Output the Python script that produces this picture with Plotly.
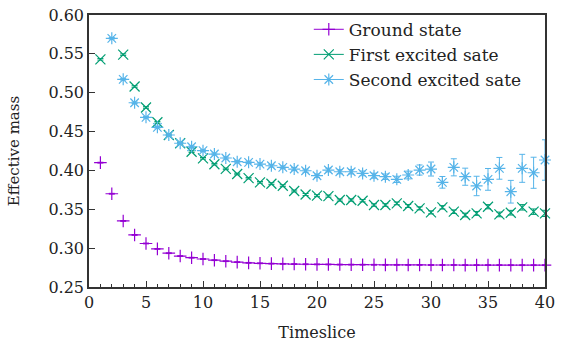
import plotly.graph_objects as go

t = list(range(1, 41))

ground = [0.410, 0.370, 0.335, 0.317, 0.306, 0.299, 0.2935, 0.2898, 0.2877, 0.2860,
          0.2845, 0.2832, 0.2820, 0.2811, 0.2805, 0.2801, 0.2798, 0.2795, 0.2793, 0.2791,
          0.2790, 0.2789, 0.2788, 0.2787, 0.2786, 0.2785, 0.2785, 0.2784, 0.2784, 0.2783,
          0.2783, 0.2783, 0.2782, 0.2782, 0.2782, 0.2782, 0.2781, 0.2781, 0.2781, 0.2781]
ground_err = [0.0005] * 40

first = [0.543, None, 0.549, 0.508, 0.481, 0.462, 0.4456, 0.435, 0.424, 0.4156,
         0.408, 0.402, 0.3954, 0.390, 0.3847, 0.3829, 0.3803, 0.3735, 0.3690, 0.3675,
         0.3670, 0.3619, 0.3619, 0.3610, 0.3555, 0.3555, 0.3576, 0.3542, 0.3512, 0.3460,
         0.3525, 0.3469, 0.3426, 0.3447, 0.3533, 0.3434, 0.3456, 0.3525, 0.3469, 0.3447]
first_err = [0.001, 0.001, 0.001, 0.001, 0.001, 0.001, 0.001, 0.001, 0.001, 0.001,
             0.001, 0.001, 0.001, 0.001, 0.001, 0.0012, 0.0012, 0.0012, 0.0013, 0.0013,
             0.0014, 0.0014, 0.0015, 0.0015, 0.0016, 0.0017, 0.0018, 0.0019, 0.002, 0.002,
             0.0022, 0.0023, 0.0024, 0.0025, 0.0027, 0.003, 0.003, 0.0035, 0.0035, 0.004]

second = [None, 0.570, 0.5172, 0.4871, 0.4683, 0.4555, 0.4456, 0.4350, 0.4305, 0.4254,
          0.4211, 0.4160, 0.4112, 0.4104, 0.4082, 0.4060, 0.4040, 0.4018, 0.3996, 0.3932,
          0.4005, 0.3983, 0.3983, 0.3962, 0.3932, 0.3919, 0.3885, 0.3941, 0.4005, 0.4018,
          0.3847, 0.4040, 0.3919, 0.3800, 0.3885, 0.4027, 0.3726, 0.4027, 0.3970, 0.4134]
second_err = [0.001, 0.001, 0.001, 0.001, 0.001, 0.001, 0.001, 0.001, 0.001, 0.0012,
              0.0012, 0.0013, 0.0014, 0.0015, 0.0016, 0.0017, 0.0018, 0.002, 0.002, 0.0022,
              0.0024, 0.0026, 0.0028, 0.003, 0.0032, 0.0035, 0.004, 0.005, 0.0065, 0.009,
              0.0075, 0.011, 0.011, 0.0125, 0.014, 0.014, 0.0146, 0.018, 0.020, 0.026]

names = ["Ground state", "First excited sate", "Second excited sate"]
colors = ["#9400D3", "#009E73", "#56B4E9"]
symbols = ["cross-thin", "x-thin", "asterisk-open"]
sizes = [9, 10, 10]
series = [(ground, ground_err), (first, first_err), (second, second_err)]

FONT = "DejaVu Serif"
AX = "#333333"

fig = go.Figure()
for (vals, errs), name, col, sym, sz in zip(series, names, colors, symbols, sizes):
    fig.add_trace(go.Scatter(
        x=t, y=vals, mode="markers", name=name, showlegend=False,
        cliponaxis=False,
        marker=dict(symbol=sym, size=sz, color=col, line=dict(color=col, width=1.2)),
        error_y=dict(type="data", array=errs, visible=True, color=col,
                     thickness=1, width=3),
    ))
    # legend entry
    fig.add_trace(go.Scatter(
        x=[None], y=[None], mode="lines+markers", name=name,
        line=dict(color=col, width=1),
        marker=dict(symbol=sym, size=sz, color=col, line=dict(color=col, width=1.2)),
    ))

fig.update_layout(
    width=564, height=343,
    margin=dict(l=89, r=19, t=15, b=56, autoexpand=False),
    paper_bgcolor="white", plot_bgcolor="white",
    font=dict(family=FONT, size=15, color="#222222"),
    showlegend=True,
    legend=dict(x=0.482, y=1.012, xanchor="left", yanchor="top",
                bgcolor="rgba(0,0,0,0)", font=dict(family=FONT, size=17),
                tracegroupgap=0, itemsizing="trace"),
)
fig.update_xaxes(
    range=[0, 40], tickmode="linear", tick0=0, dtick=5, automargin=False,
    ticks="inside", ticklen=6, tickcolor=AX, tickwidth=1,
    minor=dict(ticks="inside", ticklen=3, dtick=1, tickcolor=AX),
    showline=True, linecolor=AX, linewidth=1.5, mirror=True,
    showgrid=False, zeroline=False, ticklabeloverflow="allow",
    tickfont=dict(size=16),
    title=dict(text="Timeslice", font=dict(family=FONT, size=16), standoff=16),
)
fig.update_yaxes(
    range=[0.25, 0.60], tickmode="linear", tick0=0.25, dtick=0.05, tickformat=".2f",
    automargin=False,
    ticks="inside", ticklen=6, tickcolor=AX, tickwidth=1,
    showline=True, linecolor=AX, linewidth=1.5, mirror=True,
    showgrid=False, zeroline=False, ticklabeloverflow="allow",
    tickfont=dict(size=16),
    title=dict(text="Effective mass", font=dict(family=FONT, size=15), standoff=25),
)

# remove the default 8px page margin so the figure fills the window exactly
fig.write_html("out.html",
               config={"displayModeBar": False},
               post_script="document.body.style.margin='0px';document.body.style.overflow='hidden';")
